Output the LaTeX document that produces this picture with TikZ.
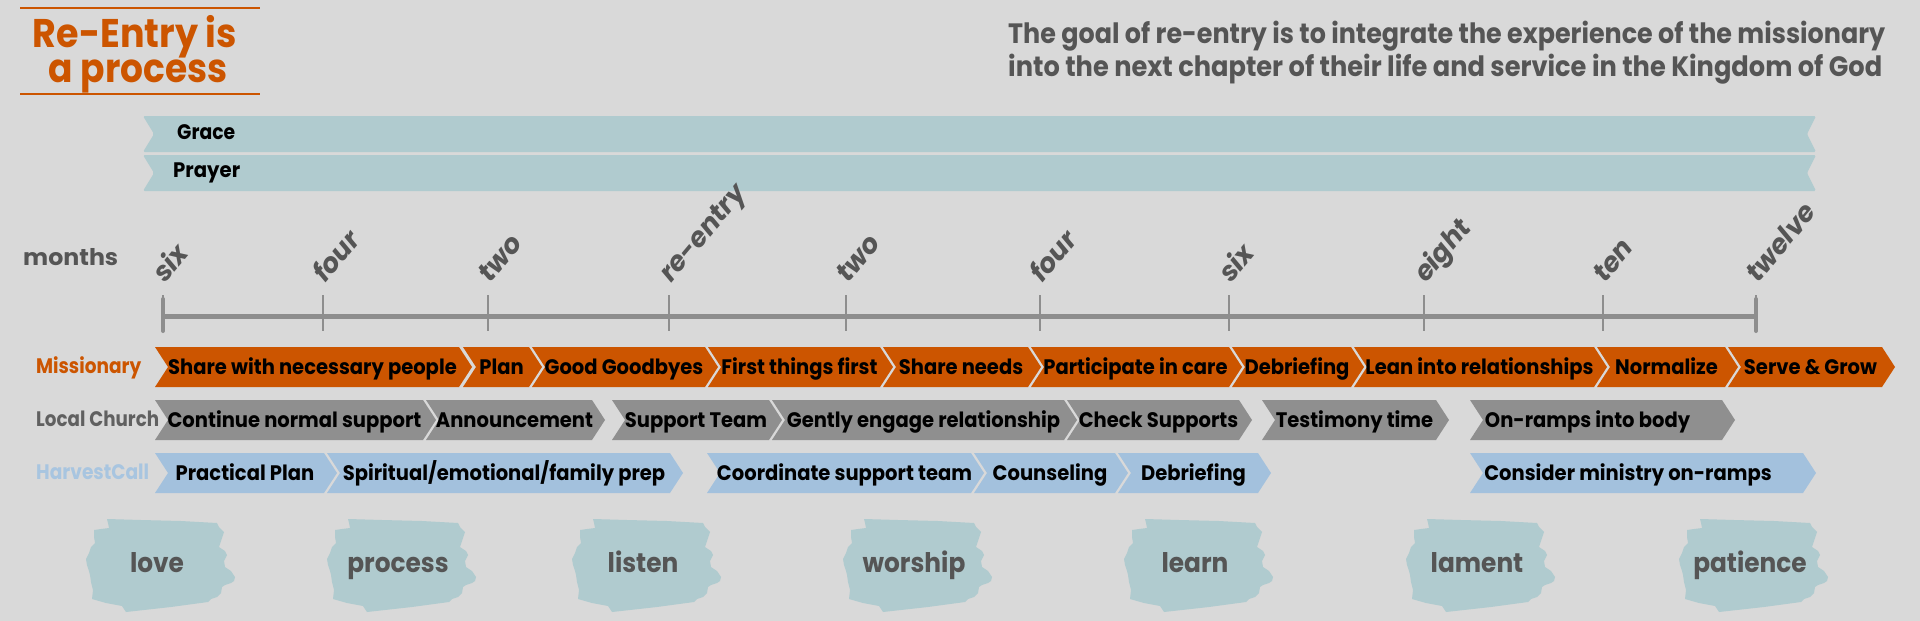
\documentclass[tikz,border=0pt]{standalone}
\usepackage{fontspec}
\usepackage{graphicx}
\setmainfont{Poppins}
\newfontfamily\chevfont[FakeStretch=0.93]{Poppins}
\newfontfamily\medfont[FakeStretch=0.92]{Poppins}
\newcommand{\fitw}[2]{\resizebox{#1}{\height}{#2}}
\definecolor{bgc}{HTML}{D9D9D9}
\definecolor{oran}{HTML}{CC5500}
\definecolor{ribbon}{HTML}{B0CBCF}
\definecolor{chgray}{HTML}{8F8F8F}
\definecolor{chblue}{HTML}{A3C1DD}
\definecolor{lblue}{HTML}{A8C5E0}
\definecolor{dgray}{HTML}{555555}
\definecolor{lcgray}{HTML}{606060}
\definecolor{tlgray}{HTML}{8E8E8E}
\tikzset{
  chevtext/.style={font=\chevfont\bfseries\fontsize{21}{24}\selectfont, text=black, inner sep=0pt, anchor=base},
  rowlabel/.style={font=\bfseries\fontsize{21}{24}\selectfont, inner sep=0pt, anchor=base west},
  tlabel/.style={font=\bfseries\itshape\fontsize{27}{30}\selectfont, text=dgray, inner sep=0pt, anchor=base west, rotate=50},
  blobtext/.style={font=\medfont\bfseries\fontsize{27}{30}\selectfont, text=dgray, inner sep=0pt, anchor=base},
  bartext/.style={font=\bfseries\fontsize{21}{24}\selectfont, text=black, inner sep=0pt, anchor=base west},
  tickln/.style={draw=tlgray, line width=2pt},
  endcapln/.style={draw=tlgray, line width=4pt, line cap=round},
  mis/.style={fill=oran},
  lch/.style={fill=chgray},
  hvc/.style={fill=chblue},
}
% #1 style, #2 name, #3 left, #4 tip, #5 centre y, #6 text, #7 text shift
\newcommand{\chev}[7][0]{%
  \fill[#2] (#4,#6-20) -- (#5-13,#6-20) -- (#5,#6) -- (#5-13,#6+20) -- (#4,#6+20) -- (#4+13,#6) -- cycle;
  \node[chevtext] (#3) at ({(#4+#5)/2-1+#1},#6+7) {#7};}
\newcommand{\blob}[4]{%
  \fill[ribbon, shift={(#2,#3)}] (-54,-46) -- (-20,-45) -- (20,-44) -- (56,-42) -- (58,-38) -- (63,-33) -- (61,-27) -- (58,-18) -- (64,-14) -- (66,-10) -- (63,-4) -- (64,2) -- (70,6) -- (74,12) -- (73,16) -- (70,18) -- (64,20) -- (61,22) -- (60,28) -- (56,32) -- (50,34) -- (47,37) -- (10,42) -- (-35,47) -- (-37,44) -- (-39,41) -- (-55,38) -- (-69,34) -- (-68,25) -- (-70,17) -- (-71,10) -- (-72,6) -- (-74,0) -- (-75,-6) -- (-72,-12) -- (-70,-18) -- (-66,-22) -- (-67,-28) -- (-67,-35) -- (-60,-36) -- (-52,-37) -- (-53,-42) -- cycle;
  \node[blobtext] (#1) at (#2-4,#3+7) {#4};}
\begin{document}
\begin{tikzpicture}[x=1pt,y=-1pt]
\useasboundingbox (0,0) rectangle (1920,621);
\fill[bgc] (0,0) rectangle (1920,621);
% title
\draw[oran, line width=2pt] (20,8) -- (260,8);
\draw[oran, line width=2pt] (20,94) -- (260,94);
\node[font=\bfseries\fontsize{40}{44}\selectfont, text=oran, inner sep=0pt, anchor=base] (t1) at (135,48) {\fitw{204pt}{Re-Entry is}};
\node[font=\bfseries\fontsize{40}{44}\selectfont, text=oran, inner sep=0pt, anchor=base] (t2) at (138,82) {\fitw{179pt}{a process}};
% goal
\node[font=\bfseries\fontsize{28}{32}\selectfont, text=dgray, inner sep=0pt, anchor=base west] (g1) at (1008,43) {\fitw{877pt}{The goal of re-entry is to integrate the experience of the missionary}};
\node[font=\bfseries\fontsize{28}{32}\selectfont, text=dgray, inner sep=0pt, anchor=base west] (g2) at (1008,76) {\fitw{874pt}{into the next chapter of their life and service in the Kingdom of God}};
% ribbons
\fill[ribbon, rounded corners=1.5pt] (143,116) -- (1816,116) -- (1807,134) -- (1816,152) -- (143,152) -- (154,134) -- cycle;
\fill[ribbon, rounded corners=1.5pt] (143,155) -- (1816,155) -- (1807,173) -- (1816,191) -- (143,191) -- (154,173) -- cycle;
\node[bartext] (grace) at (177,139) {\fitw{58pt}{Grace}};
\node[bartext] (prayer) at (173,177) {\fitw{67pt}{Prayer}};
% timeline
\node[font=\bfseries\fontsize{23}{26}\selectfont, text=dgray, inner sep=0pt, anchor=base west] (months) at (23,265) {\fitw{95pt}{months}};
\draw[draw=tlgray, line width=5pt] (163,316) -- (1756,316);
\foreach \x/\t/\n in {163/six/m6, 323/four/m4, 488/two/m2, 669/re-entry/m0, 846/two/p2, 1040/four/p4, 1229/six/p6, 1424/eight/p8, 1603/ten/p10, 1756/twelve/p12} {
  \draw[tickln] (\x,295) -- (\x,331);
  \node[tlabel] (\n) at (\x+2,284) {\t};
}
\draw[endcapln] (163,299) -- (163,331);
\draw[endcapln] (1756,299) -- (1756,331);
% row labels
\node[rowlabel, text=oran] (lmis) at (36,373) {\fitw{105pt}{Missionary}};
\node[rowlabel, text=lcgray] (llch) at (36,426) {\fitw{123pt}{Local Church}};
\node[rowlabel, text=lblue] (lhvc) at (36,479) {\fitw{113pt}{HarvestCall}};
% missionary row
\chev{mis}{m1}{155}{472}{367}{Share with necessary people}
\chev{mis}{m2}{463}{542}{367}{Plan}
\chev{mis}{m3}{532}{718}{367}{Good Goodbyes}
\chev{mis}{m4}{708}{893}{367}{First things first}
\chev{mis}{m5}{883}{1041}{367}{Share needs}
\chev{mis}{m6x}{1031}{1242}{367}{Participate in care}
\chev{mis}{m7}{1232}{1364}{367}{Debriefing}
\chev{mis}{m8}{1354}{1607}{367}{Lean into relationships}
\chev{mis}{m9}{1597}{1738}{367}{Normalize}
\chev{mis}{m10}{1728}{1895}{367}{Serve \& Grow}
% local church row
\chev{lch}{c1}{155}{436}{420}{Continue normal support}
\chev{lch}{c2}{426}{605}{420}{Announcement}
\chev{lch}{c3}{612}{782}{420}{Support Team}
\chev{lch}{c4}{772}{1077}{420}{Gently engage relationship}
\chev{lch}{c5}{1067}{1252}{420}{Check Supports}
\chev{lch}{c6}{1262}{1449}{420}{Testimony time}
\chev[-14]{lch}{c7}{1470}{1735}{420}{On-ramps into body}
% harvestcall row
\chev{hvc}{h1}{155}{337}{473}{Practical Plan}
\chev{hvc}{h2}{327}{683}{473}{Spiritual/emotional/family prep}
\chev{hvc}{h3}{707}{984}{473}{Coordinate support team}
\chev{hvc}{h4}{974}{1128}{473}{Counseling}
\chev{hvc}{h5}{1118}{1271}{473}{Debriefing}
\chev[-14]{hvc}{h6}{1470}{1816}{473}{Consider ministry on-ramps}
% blobs
\blob{love}{161}{565}{love}
\blob{process}{402}{565}{process}
\blob{listen}{647}{565}{listen}
\blob{worship}{918}{565}{worship}
\blob{learn}{1199}{565}{learn}
\blob{lament}{1481}{565}{lament}
\blob{patience}{1754}{565}{patience}
\end{tikzpicture}
\end{document}
